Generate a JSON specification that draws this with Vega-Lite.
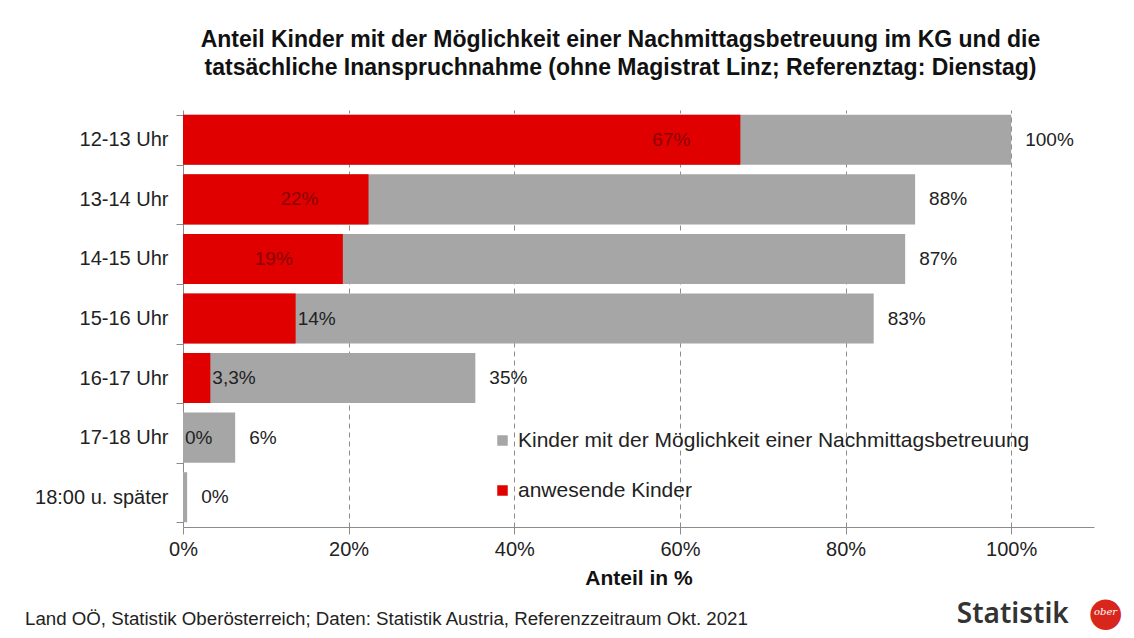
{
  "$schema": "https://vega.github.io/schema/vega-lite/v6.json",
  "width": 911,
  "height": 417,
  "autosize": {"type": "none"},
  "padding": {"left": 183, "top": 110, "right": 40, "bottom": 111},
  "background": "white",
  "config": {"font": "Liberation Sans", "view": {"stroke": null}},
  "title": {
    "text": ["Anteil Kinder mit der Möglichkeit einer Nachmittagsbetreuung im KG und die", "tatsächliche Inanspruchnahme (ohne Magistrat Linz; Referenztag: Dienstag)"],
    "fontSize": 23,
    "fontWeight": "bold",
    "color": "#111111",
    "anchor": "middle",
    "frame": "group",
    "dx": -18,
    "offset": 20,
    "lineHeight": 28
  },
  "data": {
    "values": [
      {"cat": "12-13 Uhr", "grey": 100, "red": 67.3, "greyLabel": "100%", "redLabel": "67%"},
      {"cat": "13-14 Uhr", "grey": 88.4, "red": 22.4, "greyLabel": "88%", "redLabel": "22%"},
      {"cat": "14-15 Uhr", "grey": 87.2, "red": 19.3, "greyLabel": "87%", "redLabel": "19%"},
      {"cat": "15-16 Uhr", "grey": 83.4, "red": 13.6, "greyLabel": "83%", "redLabel": "14%"},
      {"cat": "16-17 Uhr", "grey": 35.3, "red": 3.3, "greyLabel": "35%", "redLabel": "3,3%"},
      {"cat": "17-18 Uhr", "grey": 6.3, "red": 0, "greyLabel": "6%", "redLabel": "0%"},
      {"cat": "18:00 u. später", "grey": 0.5, "red": 0, "greyLabel": "0%", "redLabel": null}
    ]
  },
  "encoding": {
    "y": {
      "field": "cat",
      "type": "nominal",
      "sort": null,
      "scale": {"paddingInner": 0.16, "paddingOuter": 0.08},
      "axis": {
        "title": null,
        "domainColor": "#8c8c8c",
        "tickColor": "#8c8c8c",
        "tickSize": 7,
        "tickBand": "extent",
        "labelFontSize": 20,
        "labelColor": "#222222",
        "labelPadding": 8,
        "labelLimit": 0,
        "grid": false
      }
    }
  },
  "layer": [
    {
      "mark": {"type": "bar"},
      "encoding": {
        "x": {
          "field": "grey",
          "type": "quantitative",
          "stack": null,
          "scale": {"domain": [0, 110], "nice": false},
          "axis": {
            "values": [0, 20, 40, 60, 80, 100],
            "labelExpr": "datum.value + '%'",
            "title": "Anteil in %",
            "titleFontSize": 21,
            "titleFontWeight": "bold",
            "titleColor": "#111111",
            "titlePadding": 8,
            "labelFontSize": 20,
            "labelColor": "#222222",
            "labelPadding": 5,
            "labelFlush": false,
            "tickSize": 7,
            "tickColor": "#8c8c8c",
            "domainColor": "#8c8c8c",
            "grid": true,
            "gridDash": [5, 4],
            "gridColor": "#8c8c8c",
            "gridOpacity": {"condition": {"test": "datum.value === 0", "value": 0}, "value": 1}
          }
        },
        "color": {
          "datum": "Kinder mit der Möglichkeit einer Nachmittagsbetreuung",
          "type": "nominal",
          "scale": {
            "domain": ["Kinder mit der Möglichkeit einer Nachmittagsbetreuung", "anwesende Kinder"],
            "range": ["#a6a6a6", "#e00000"]
          },
          "legend": {
            "orient": "none",
            "legendX": 309,
            "legendY": 320,
            "title": null,
            "symbolType": "square",
            "symbolSize": 110,
            "symbolStrokeWidth": 0,
            "labelFontSize": 21,
            "labelColor": "#222222",
            "labelLimit": 0,
            "rowPadding": 28,
            "labelOffset": 5
          }
        }
      }
    },
    {
      "mark": {"type": "bar"},
      "encoding": {
        "x": {"field": "red", "type": "quantitative", "stack": null},
        "color": {"datum": "anwesende Kinder", "type": "nominal"}
      }
    },
    {
      "mark": {"type": "text", "align": "left", "dx": 14, "fontSize": 19, "color": "#222222"},
      "encoding": {
        "x": {"field": "grey", "type": "quantitative"},
        "text": {"field": "greyLabel"}
      }
    },
    {
      "transform": [{"filter": "datum.red >= 15"}],
      "mark": {"type": "text", "align": "right", "dx": -50, "fontSize": 19, "color": "#8b0000"},
      "encoding": {
        "x": {"field": "red", "type": "quantitative"},
        "text": {"field": "redLabel"}
      }
    },
    {
      "transform": [{"filter": "datum.redLabel != null && datum.red < 15"}],
      "mark": {"type": "text", "align": "left", "dx": 2, "fontSize": 19, "color": "#222222"},
      "encoding": {
        "x": {"field": "red", "type": "quantitative"},
        "text": {"field": "redLabel"}
      }
    },
    {
      "data": {"values": [{"footer": "Land OÖ, Statistik Oberösterreich; Daten: Statistik Austria, Referenzzeitraum Okt. 2021"}]},
      "mark": {"type": "text", "align": "left", "baseline": "middle", "dx": -158, "dy": 122, "fontSize": 18.7, "color": "#222222"},
      "encoding": {
        "x": {"datum": 0},
        "y": {"datum": "18:00 u. später"},
        "text": {"field": "footer"}
      }
    },
    {
      "data": {"values": [{"logo": "Statistik"}]},
      "mark": {"type": "text", "align": "center", "baseline": "middle", "dy": 118, "fontSize": 28, "font": "Noto Sans", "fontWeight": 600, "color": "#333333"},
      "encoding": {
        "x": {"datum": 100.2},
        "y": {"datum": "18:00 u. später"},
        "text": {"field": "logo"}
      }
    },
    {
      "data": {"values": [{"dot": "●"}]},
      "mark": {"type": "text", "align": "center", "baseline": "middle", "dy": 116, "fontSize": 40, "font": "DejaVu Sans", "color": "#d9261c"},
      "encoding": {
        "x": {"datum": 111.4},
        "y": {"datum": "18:00 u. später"},
        "text": {"field": "dot"}
      }
    },
    {
      "data": {"values": [{"ober": "ober"}]},
      "mark": {"type": "text", "align": "center", "baseline": "middle", "dy": 115, "fontSize": 10, "fontStyle": "italic", "font": "DejaVu Serif", "color": "white"},
      "encoding": {
        "x": {"datum": 111.4},
        "y": {"datum": "18:00 u. später"},
        "text": {"field": "ober"}
      }
    }
  ]
}
